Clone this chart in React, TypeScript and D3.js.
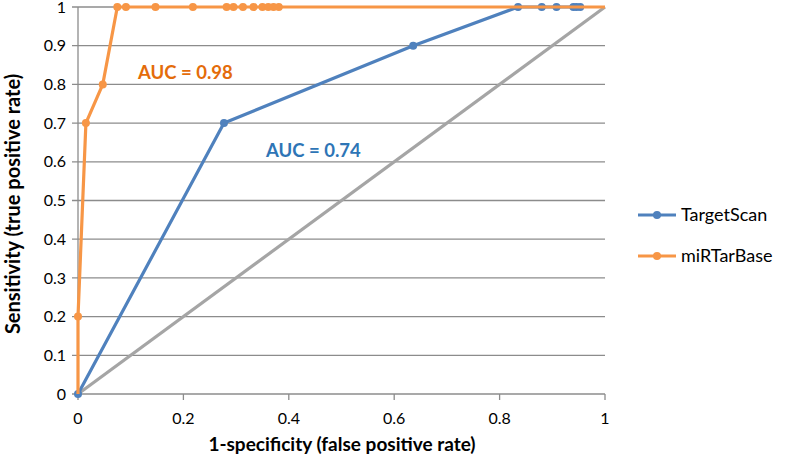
import React from "react";
import * as d3 from "d3";

const xTicks = [0, 0.2, 0.4, 0.6, 0.8, 1];
const yTicks = [0, 0.1, 0.2, 0.3, 0.4, 0.5, 0.6, 0.7, 0.8, 0.9, 1];

const targetScanFpr = [0, 0.277, 0.636, 0.835, 0.88, 0.908, 0.94, 0.946, 0.953];
const targetScanTpr = [0, 0.7, 0.9, 1, 1, 1, 1, 1, 1];

const mirtarbaseFpr = [0, 0, 0.015, 0.047, 0.0746, 0.091, 0.147, 0.218, 0.282, 0.295, 0.313, 0.333, 0.35, 0.361, 0.371, 0.381, 1];
const mirtarbaseTpr = [0, 0.2, 0.7, 0.8, 1, 1, 1, 1, 1, 1, 1, 1, 1, 1, 1, 1, 1];

const diagonal = [0, 1];

const BLUE = "#4F81BD";
const ORANGE = "#F79646";
const GRAY = "#A5A5A5";
const FONT = "Lato, 'Open Sans', sans-serif";

export default function App() {
  const W = 786, H = 459;
  const x = d3.scaleLinear().domain([0, 1]).range([78, 605]);
  const y = d3.scaleLinear().domain([0, 1]).range([394, 7]);
  const line = d3.line<[number, number]>().x(d => x(d[0])).y(d => y(d[1]));

  const ts: [number, number][] = targetScanFpr.map((v, i) => [v, targetScanTpr[i]]);
  const mb: [number, number][] = mirtarbaseFpr.map((v, i) => [v, mirtarbaseTpr[i]]);
  const dg: [number, number][] = diagonal.map(v => [v, v]);

  return (
    <svg width={W} height={H} style={{ position: "absolute", left: 0, top: 0, background: "#fff" }} fontFamily={FONT}>
      {yTicks.map(t => (
        <g key={"y" + t}>
          <line x1={72} x2={605} y1={y(t)} y2={y(t)} stroke="#8C8C8C" strokeWidth={1.3} />
          <text x={66} y={y(t)} dy="0.35em" textAnchor="end" fontSize={16} fill="#000">{t}</text>
        </g>
      ))}
      <line x1={x(0)} x2={x(0)} y1={y(0)} y2={y(1)} stroke="#8C8C8C" strokeWidth={1.3} />
      {xTicks.map(t => (
        <g key={"x" + t}>
          <line x1={x(t)} x2={x(t)} y1={y(0)} y2={y(0) + 6} stroke="#8C8C8C" strokeWidth={1.3} />
          <text x={x(t)} y={424} textAnchor="middle" fontSize={16} fill="#000">{t}</text>
        </g>
      ))}
      <path d={line(dg) || ""} fill="none" stroke={GRAY} strokeWidth={3.2} />
      <path d={line(ts) || ""} fill="none" stroke={BLUE} strokeWidth={3.2} />
      {ts.map((d, i) => (
        <circle key={"ts" + i} cx={x(d[0])} cy={y(d[1])} r={4} fill={BLUE} />
      ))}
      <path d={line(mb) || ""} fill="none" stroke={ORANGE} strokeWidth={3.2} />
      {mb.slice(1, -1).map((d, i) => (
        <circle key={"mb" + i} cx={x(d[0])} cy={y(d[1])} r={4} fill={ORANGE} />
      ))}
      <text x={138} y={79} fontSize={18.5} fontWeight="bold" fill="#E46C0A">AUC = 0.98</text>
      <text x={266} y={157} fontSize={18.5} fontWeight="bold" fill="#2E75B6">AUC = 0.74</text>
      <text x={342} y={451} textAnchor="middle" fontSize={19} fontWeight="bold" fill="#000">1-specificity (false positive rate)</text>
      <text transform={`translate(20,${204}) rotate(-90)`} textAnchor="middle" fontSize={20} fontWeight="bold" fill="#000">Sensitivity (true positive rate)</text>
      <g>
        <line x1={638} x2={676} y1={215} y2={215} stroke={BLUE} strokeWidth={3.2} />
        <circle cx={657} cy={215} r={4} fill={BLUE} />
        <text x={681} y={215} dy="0.35em" fontSize={18} fill="#000">TargetScan</text>
        <line x1={638} x2={676} y1={256} y2={256} stroke={ORANGE} strokeWidth={3.2} />
        <circle cx={657} cy={256} r={4} fill={ORANGE} />
        <text x={681} y={256} dy="0.35em" fontSize={18} fill="#000">miRTarBase</text>
      </g>
    </svg>
  );
}
